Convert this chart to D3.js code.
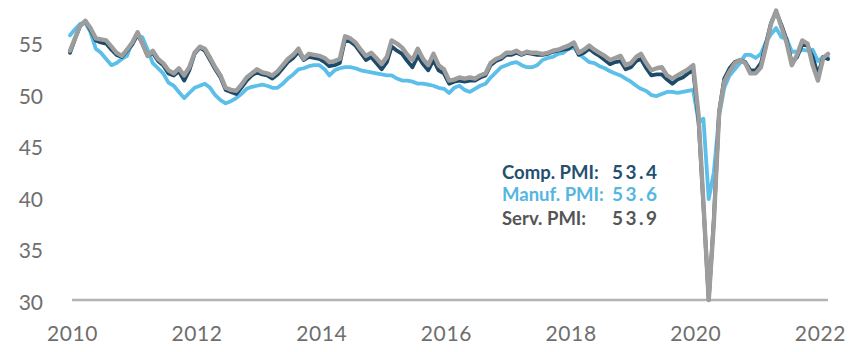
<!DOCTYPE html>
<html>
<head>
<meta charset="utf-8">
<script src="https://cdn.jsdelivr.net/npm/d3@7"></script>
<style>
  html, body { margin: 0; padding: 0; background: #ffffff; }
  svg { display: block; }
  text { font-family: Lato, "Open Sans", sans-serif; }
</style>
</head>
<body>
<svg id="chart" width="856" height="352"></svg>
<script>
// Monthly PMI readings, Jan 2010 – Mar 2022
const startYear = 2010;
const startMonth = 0;

const services = [
  54.2, 55.5, 56.6, 57.1, 56.4, 55.4, 55.3, 55.2, 54.6, 54.0, 53.7, 54.3,
  55.0, 56.0, 54.9, 53.7, 54.2, 53.4, 53.0, 52.3, 52.0, 52.5, 51.8, 52.6,
  54.0, 54.6, 54.4, 53.5, 52.6, 51.8, 50.6, 50.4, 50.3, 50.9, 51.6, 52.0,
  52.4, 52.1, 52.0, 51.8, 52.2, 52.8, 53.4, 53.8, 54.4, 53.4, 53.9, 53.8,
  53.7, 53.5, 53.1, 53.2, 53.4, 55.6, 55.4, 55.0, 54.3, 53.7, 54.0, 53.5,
  52.9, 53.6, 55.2, 54.9, 54.5, 53.8, 53.3, 54.4, 53.4, 52.8, 53.9, 52.8,
  52.4, 51.3, 51.4, 51.6, 51.5, 51.6, 51.5, 51.8, 52.0, 53.0, 53.4, 53.6,
  54.0, 54.0, 54.2, 53.9, 54.1, 54.0, 54.0, 53.9, 54.0, 54.2, 54.3, 54.5,
  54.7, 55.0, 54.0, 54.3, 54.7, 54.3, 54.0, 53.7, 53.3, 53.5, 53.7, 52.8,
  53.0, 53.6, 53.9, 53.0, 52.3, 52.5, 52.6, 51.8, 51.5, 51.8, 52.1, 52.4,
  52.8, 48.0, 39.4, 30.0, 37.5, 48.2, 51.2, 52.2, 53.0, 53.3, 53.0, 52.0,
  52.0, 52.6, 54.5, 56.8, 58.1, 56.5, 55.0, 52.8, 53.8, 55.2, 54.9, 52.8,
  51.3, 53.5, 53.9
];

const composite = [
  54.0, 55.4, 56.6, 57.1, 56.2, 55.2, 55.0, 54.9, 54.3, 53.8, 53.6, 54.2,
  54.8, 55.8, 54.9, 53.7, 54.0, 53.2, 52.8, 52.0, 51.8, 52.2, 51.3, 52.3,
  53.9, 54.5, 54.2, 53.3, 52.4, 51.6, 50.4, 50.2, 50.0, 50.6, 51.3, 51.8,
  52.1, 51.9, 51.8, 51.5, 51.9, 52.5, 53.1, 53.5, 54.1, 53.3, 53.6, 53.5,
  53.4, 53.1, 52.7, 52.8, 53.0, 55.3, 55.1, 54.7, 54.0, 53.3, 53.6, 53.0,
  52.4, 53.1, 54.6, 54.2, 53.9, 53.2, 52.6, 53.7, 52.9, 52.3, 53.3, 52.3,
  52.0, 51.0, 51.2, 51.3, 51.2, 51.3, 51.3, 51.6, 51.8, 52.8, 53.2, 53.4,
  53.8, 53.8, 54.0, 53.8, 54.0, 53.9, 53.8, 53.8, 53.9, 54.1, 54.2, 54.3,
  54.4, 54.8, 53.8, 54.0, 54.4, 54.0, 53.7, 53.3, 52.9, 53.1, 53.2, 52.4,
  52.6, 53.2, 53.4, 52.5, 51.8, 51.9, 51.9, 51.4, 51.0, 51.4, 51.6, 52.0,
  52.3, 47.5, 39.2, 30.0, 37.8, 48.3, 51.5, 52.5, 53.1, 53.3, 53.1, 52.3,
  52.3, 53.0, 54.8, 56.9, 58.0, 56.7, 55.3, 53.0, 53.6, 54.8, 54.7, 53.6,
  51.9, 53.6, 53.4
];

const manufacturing = [
  55.7, 56.3, 56.8, 56.9, 56.0, 54.4, 54.0, 53.4, 52.8, 53.0, 53.4, 53.7,
  55.0, 55.7, 55.5, 54.3, 53.0, 52.5, 52.0, 51.1, 50.8, 50.2, 49.6, 50.1,
  50.6, 50.8, 51.0, 50.6, 49.9, 49.4, 49.1, 49.3, 49.6, 50.0, 50.5, 50.7,
  50.8, 50.9, 50.8, 50.6, 50.6, 51.0, 51.5, 51.9, 52.4, 52.5, 52.7, 52.8,
  52.8, 52.4, 51.8, 52.3, 52.5, 52.6, 52.6, 52.5, 52.3, 52.2, 52.1, 52.0,
  51.9, 51.8, 51.8, 51.5, 51.3, 51.3, 51.2, 51.0, 51.0, 50.9, 50.8, 50.6,
  50.5, 50.1, 50.6, 50.8, 50.4, 50.2, 50.5, 50.8, 51.0, 51.6, 52.1, 52.6,
  52.8, 53.0, 53.1, 52.8, 52.6, 52.6, 52.8, 53.3, 53.5, 53.6, 53.9, 54.0,
  54.4, 54.5, 53.9, 53.5, 53.1, 53.0, 52.7, 52.5, 52.2, 52.0, 51.8, 51.5,
  51.2, 50.8, 50.5, 50.3, 49.9, 49.8, 50.0, 50.2, 50.2, 50.1, 50.2, 50.3,
  50.4, 47.3, 47.6, 39.8, 42.4, 47.9, 50.6, 51.8, 52.4, 53.0, 53.8, 53.8,
  53.5, 53.9, 55.0, 55.8, 56.4, 55.5, 55.4, 54.1, 54.1, 54.3, 54.2, 54.3,
  53.2, 53.6, 53.6
];

const yTicks = [30, 35, 40, 45, 50, 55];
const xTickYears = [2010, 2012, 2014, 2016, 2018, 2020, 2022];

const seriesNames = ["Comp. PMI:", "Manuf. PMI:", "Serv. PMI:"];
const seriesColors = ["#1d4a68", "#5bbfe9", "#9d9d9d"];
const labelColors = ["#24506f", "#55b6df", "#555555"];

// ---------------------------------------------------------------
const svg = d3.select("#chart");

const dateAt = i => new Date(Date.UTC(startYear, startMonth + i, 1));
const nMonths = services.length;

const x = d3.scaleUtc()
  .domain([dateAt(0), dateAt(nMonths - 1)])
  .range([70, 828]);

const y = d3.scaleLinear()
  .domain([30, 60])
  .range([300, 300 - 30 * 10.3]);

// y-axis labels (no axis line)
const yAxis = d3.axisLeft(y)
  .tickValues(yTicks)
  .tickSize(0)
  .tickPadding(0)
  .tickFormat(d3.format("d"));

svg.append("g")
  .attr("transform", "translate(43,0)")
  .call(yAxis)
  .call(g => g.select(".domain").remove())
  .call(g => g.selectAll("text")
    .attr("dy", "0.45em")
    .attr("fill", "#6e6e6e")
    .style("font-size", "21px")
    .style("font-family", "Lato, 'Open Sans', sans-serif"));

// x-axis labels
const xAxis = d3.axisBottom(x)
  .tickValues(xTickYears.map(yr => new Date(Date.UTC(yr, 0, 1))))
  .tickSize(0)
  .tickPadding(0)
  .tickFormat(d3.utcFormat("%Y"));

svg.append("g")
  .attr("transform", "translate(2,326)")
  .call(xAxis)
  .call(g => g.select(".domain").remove())
  .call(g => g.selectAll("text")
    .attr("dy", "0.71em")
    .attr("fill", "#6e6e6e")
    .style("font-size", "21px")
    .style("letter-spacing", "0.6px")
    .style("font-family", "Lato, 'Open Sans', sans-serif"));

// baseline at 30
svg.append("line")
  .attr("x1", 72).attr("x2", 828)
  .attr("y1", y(30)).attr("y2", y(30))
  .attr("stroke", "#b3b3b3")
  .attr("stroke-width", 2.5);

// lines: manufacturing under, composite, services on top
const line = d3.line()
  .x((d, i) => x(dateAt(i)))
  .y(d => y(d))
  .curve(d3.curveLinear);

const drawOrder = [
  { data: manufacturing, color: seriesColors[1], width: 3.8 },
  { data: composite, color: seriesColors[0], width: 3.8 },
  { data: services, color: seriesColors[2], width: 4.4 }
];

svg.append("g")
  .selectAll("path")
  .data(drawOrder)
  .join("path")
  .attr("d", s => line(s.data))
  .attr("fill", "none")
  .attr("stroke", s => s.color)
  .attr("stroke-width", s => s.width)
  .attr("stroke-linejoin", "round")
  .attr("stroke-linecap", "round");

// legend with latest readings
const latest = [composite, manufacturing, services].map(a => a[a.length - 1]);
const legendBaselines = [179, 201, 225];

const legend = svg.append("g");
legend.selectAll("text.name")
  .data(seriesNames)
  .join("text")
  .attr("class", "name")
  .attr("x", 502)
  .attr("y", (d, i) => legendBaselines[i])
  .attr("fill", (d, i) => labelColors[i])
  .style("font-size", "18.5px")
  .style("font-weight", "700")
  .text(d => d);

legend.selectAll("text.val")
  .data(latest)
  .join("text")
  .attr("class", "val")
  .attr("x", 612)
  .attr("y", (d, i) => legendBaselines[i])
  .attr("fill", (d, i) => labelColors[i])
  .style("font-size", "19px")
  .style("font-weight", "700")
  .style("letter-spacing", "2.5px")
  .text(d => d3.format(".1f")(d));
</script>
</body>
</html>
